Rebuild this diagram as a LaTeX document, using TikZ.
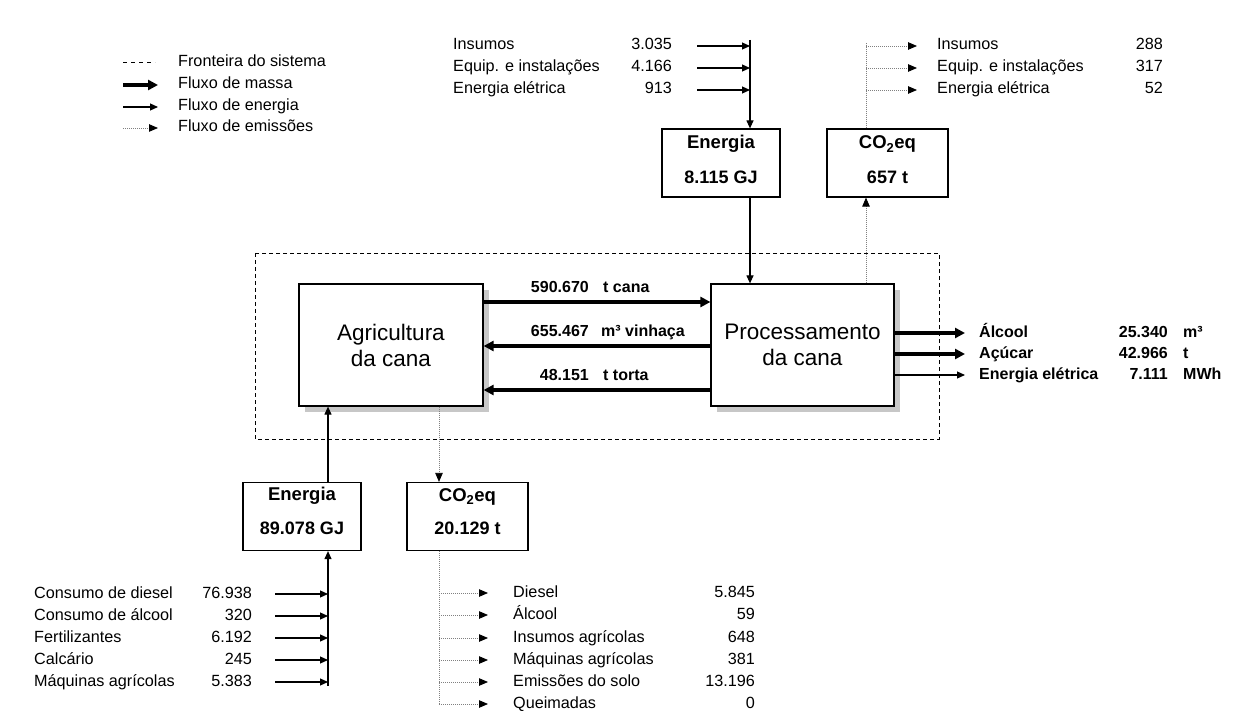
\documentclass[tikz,border=0pt]{standalone}
\usepackage{fontspec}
\setmainfont{Liberation Sans}
\usetikzlibrary{arrows.meta,shadows}
\begin{document}
\begin{tikzpicture}[x=1pt,y=-1pt,
  lbl/.style={inner sep=0pt, text height=11pt, text depth=3pt, font=\fontsize{16.2}{18}\selectfont},
  lw/.style={lbl, anchor=west},
  le/.style={lbl, anchor=east},
  blbl/.style={inner sep=0pt, text height=11.5pt, text depth=3pt, font=\bfseries\fontsize{16}{18}\selectfont},
  flowE/.style={line width=1.1pt, -{Triangle[length=8pt,width=7pt]}},
  flowM/.style={line width=3.2pt, -{Triangle[length=10pt,width=10pt]}},
  flowC/.style={line width=0.8pt, black!50, dash pattern=on 1pt off 1pt, -{Triangle[length=9pt,width=7.5pt,color=black]}},
  cline/.style={line width=0.8pt, black!50, dash pattern=on 1pt off 1pt},
  bound/.style={line width=0.9pt, dash pattern=on 4pt off 3pt},
  mainbox/.style={draw, line width=1.2pt, fill=white, minimum width=184pt, minimum height=122pt, inner sep=0pt, align=center, font=\fontsize{22.5}{26}\selectfont, drop shadow={shadow xshift=6pt, shadow yshift=-6pt, fill=black!22, opacity=1}},
  smallbox/.style={draw, line width=1.2pt, minimum width=118pt, minimum height=68pt, inner sep=0pt},
  btitle/.style={inner sep=0pt, font=\bfseries\fontsize{18.5}{20}\selectfont},
  bval/.style={inner sep=0pt, font=\bfseries\fontsize{18}{20}\selectfont}
]
\useasboundingbox (0,0) rectangle (1250,711);

% system boundary
\draw[bound] (255,253) rectangle (939,439);

% legend
\node[lw] (L1) at (178,63) {Fronteira do sistema};
\node[lw] (L2) at (178,85) {Fluxo de massa};
\node[lw] (L3) at (178,107) {Fluxo de energia};
\node[lw] (L4) at (178,128) {Fluxo de emissões};
\draw[line width=1pt, dash pattern=on 4pt off 4pt] ([xshift=-55pt]L1.west) -- ([xshift=-23pt]L1.west);
\draw[flowM] ([xshift=-55pt]L2.west) -- ([xshift=-20pt]L2.west);
\draw[flowE] ([xshift=-55pt]L3.west) -- ([xshift=-20pt]L3.west);
\draw[flowC] ([xshift=-55pt]L4.west) -- ([xshift=-20pt]L4.west);

% main boxes
\node[mainbox] (agri) at (391,345) {Agricultura\\da cana};
\node[mainbox, minimum width=183pt] (proc) at (802.5,345) {Processamento\\da cana};

% small boxes
\node[smallbox] (ent) at (721,163) {};
\node[btitle] (entT) at ([yshift=-15pt]ent.north) {Energia};
\node[bval] (entV) at ([yshift=-49pt]ent.north) {8.115 GJ};
\node[smallbox, minimum width=121pt] (co2t) at (887.5,163) {};
\node[btitle] (co2tT) at ([yshift=-16pt]co2t.north) {CO\textsubscript{2}eq};
\node[bval] (co2tV) at ([yshift=-49pt]co2t.north) {657 t};
\node[smallbox] (eneb) at (302,516.5) {};
\node[btitle] (enebT) at ([yshift=-14pt]eneb.north) {Energia};
\node[bval] (enebV) at ([yshift=-46pt]eneb.north) {89.078 GJ};
\node[smallbox, minimum width=121pt] (co2b) at (467.5,516.5) {};
\node[btitle] (co2bT) at ([yshift=-15pt]co2b.north) {CO\textsubscript{2}eq};
\node[bval] (co2bV) at ([yshift=-46pt]co2b.north) {20.129 t};

% central mass flows
\draw[flowM] ([yshift=43pt]agri.east) -- ([yshift=43pt]agri.east -| proc.west);
\draw[flowM] ([yshift=-1pt]proc.west) -- ([yshift=-1pt]proc.west -| agri.east);
\draw[flowM] ([yshift=-45pt]proc.west) -- ([yshift=-45pt]proc.west -| agri.east);
\node[blbl, anchor=east] (c1n) at (589,288) {590.670};
\node[blbl, anchor=west] (c1u) at (603,288) {t cana};
\node[blbl, anchor=east] (c2n) at (589,332) {655.467};
\node[blbl, anchor=west] (c2u) at (601,332) {m³ vinhaça};
\node[blbl, anchor=east] (c3n) at (589,376) {48.151};
\node[blbl, anchor=west] (c3u) at (603,376) {t torta};

% right outputs
\node[blbl, anchor=west] (o1) at (979,333) {Álcool};
\node[blbl, anchor=west] (o2) at (979,354) {Açúcar};
\node[blbl, anchor=west] (o3) at (979,375) {Energia elétrica};
\node[blbl, anchor=east] (o1v) at (1168,333) {25.340};
\node[blbl, anchor=east] (o2v) at (1168,354) {42.966};
\node[blbl, anchor=east] (o3v) at (1168,375) {7.111};
\node[blbl, anchor=west] (o1u) at (1183,333) {m³};
\node[blbl, anchor=west] (o2u) at (1183,354) {t};
\node[blbl, anchor=west] (o3u) at (1183,375) {MWh};
\draw[flowM] (proc.east |- o1.west) -- ([xshift=-14pt]o1.west);
\draw[flowM] (proc.east |- o2.west) -- ([xshift=-14pt]o2.west);
\draw[flowE] (proc.east |- o3.west) -- ([xshift=-14pt]o3.west);

% top energy inputs
\coordinate (tin) at (750,40);
\node[lw] (t1) at (453,46) {Insumos};
\node[lw] (t2) at (453,68) {Equip. e instalações};
\node[lw] (t3) at (453,90) {Energia elétrica};
\node[le] (t1v) at (672,46) {3.035};
\node[le] (t2v) at (672,68) {4.166};
\node[le] (t3v) at (672,90) {913};
\draw[flowE] ([xshift=25pt]t1v.east) -- (t1v.east -| tin);
\draw[flowE] ([xshift=25pt]t2v.east) -- (t2v.east -| tin);
\draw[flowE] ([xshift=25pt]t3v.east) -- (t3v.east -| tin);
\draw[flowE] (tin) -- (tin |- ent.north);
\draw[flowE] (tin |- ent.south) -- (tin |- proc.north);

% top emissions
\coordinate (tem) at (866,43);
\node[lw] (e1) at (937,46) {Insumos};
\node[lw] (e2) at (937,68) {Equip. e instalações};
\node[lw] (e3) at (937,90) {Energia elétrica};
\node[le] (e1v) at (1163,46) {288};
\node[le] (e2v) at (1163,68) {317};
\node[le] (e3v) at (1163,90) {52};
\draw[cline] (tem |- co2t.north) -- (tem);
\draw[flowC] (e1.west -| tem) -- ([xshift=-20pt]e1.west);
\draw[flowC] (e2.west -| tem) -- ([xshift=-20pt]e2.west);
\draw[flowC] (e3.west -| tem) -- ([xshift=-20pt]e3.west);
\draw[flowC] (tem |- proc.north) -- (tem |- co2t.south);

% bottom energy inputs
\coordinate (bin) at (328,686);
\node[lw] (b1) at (34,594) {Consumo de diesel};
\node[lw] (b2) at (34,616) {Consumo de álcool};
\node[lw] (b3) at (34,638) {Fertilizantes};
\node[lw] (b4) at (34,660) {Calcário};
\node[lw] (b5) at (34,682) {Máquinas agrícolas};
\node[le] (b1v) at (252,594) {76.938};
\node[le] (b2v) at (252,616) {320};
\node[le] (b3v) at (252,638) {6.192};
\node[le] (b4v) at (252,660) {245};
\node[le] (b5v) at (252,682) {5.383};
\foreach \n in {b1v,b2v,b3v,b4v,b5v}{
  \draw[flowE] ([xshift=23pt]\n.east) -- (\n.east -| bin);
}
\draw[flowE] (bin) -- (bin |- eneb.south);
\draw[flowE] (bin |- eneb.north) -- (bin |- agri.south);

% bottom emissions
\coordinate (bem) at (439,704);
\node[lw] (d1) at (513,593) {Diesel};
\node[lw] (d2) at (513,615) {Álcool};
\node[lw] (d3) at (513,638) {Insumos agrícolas};
\node[lw] (d4) at (513,660) {Máquinas agrícolas};
\node[lw] (d5) at (513,682) {Emissões do solo};
\node[lw] (d6) at (513,704) {Queimadas};
\node[le] (d1v) at (755,593) {5.845};
\node[le] (d2v) at (755,615) {59};
\node[le] (d3v) at (755,638) {648};
\node[le] (d4v) at (755,660) {381};
\node[le] (d5v) at (755,682) {13.196};
\node[le] (d6v) at (755,704) {0};
\draw[cline] (bem |- co2b.south) -- (bem);
\foreach \n in {d1,d2,d3,d4,d5,d6}{
  \draw[flowC] (\n.west -| bem) -- ([xshift=-25pt]\n.west);
}
\draw[flowC] (bem |- agri.south) -- (bem |- co2b.north);
\end{tikzpicture}
\end{document}
